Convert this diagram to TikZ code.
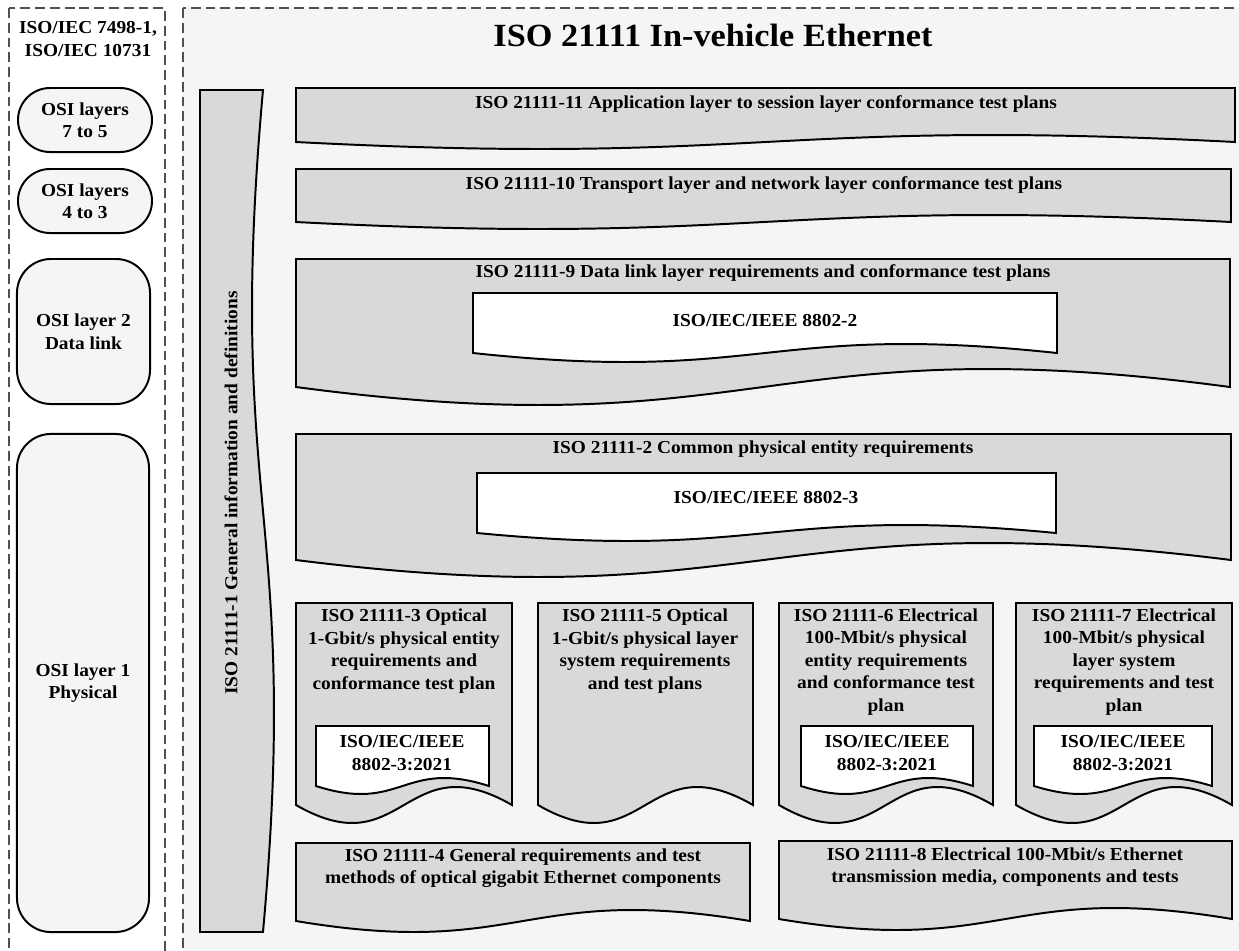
\documentclass[tikz,border=0pt]{standalone}
\usepackage{fontspec}
\setmainfont{Liberation Serif}[FakeStretch=1.06]
\usepackage{xcolor}
\definecolor{panel_bg}{RGB}{244,245,247}
\definecolor{doc_grey}{RGB}{217,217,217}
\definecolor{dash_grey}{RGB}{80,80,80}
\usepackage{tikz}
\usetikzlibrary{positioning}

% document shape: style, left, top, right, bottom ends, wave amplitude
\newcommand{\docshape}[6]{%
  \draw[#1] (#2,#3) -- (#4,#3) -- (#4,#5)
    .. controls ({(#2+#4)/2},{#5-3.46*#6}) and ({(#2+#4)/2},{#5+3.46*#6}) .. (#2,#5) -- cycle;}

\begin{document}
\begin{tikzpicture}
[	x=0.025cm, y=-0.025cm,
	panel/.style={draw=dash_grey, line width=1.1pt, dash pattern=on 7pt off 3.5pt},
	osibox/.style={draw, line width=1.4pt, fill=panel_bg, align=center, font=\bfseries\fontsize{13}{16}\selectfont},
	greydoc/.style={draw, line width=1.4pt, fill=doc_grey},
	whitedoc/.style={draw, line width=1.4pt, fill=white},
	doctext/.style={align=center, inner sep=0pt, font=\bfseries\fontsize{13}{16}\selectfont},
	titletext/.style={font=\bfseries\fontsize{23}{28}\selectfont}
]
\useasboundingbox (0,0) rectangle (1239,950);
\clip (0,0) rectangle (1239,950);
\fill[white] (0,0) rectangle (1239,950);

% OSI panel
\draw[panel] (9,8) rectangle (165,970);
\node[doctext] (osiref) at (88,39) {ISO/IEC 7498-1,\\ISO/IEC 10731};
\node[osibox, rounded corners=0.8cm, minimum width=3.35cm, minimum height=1.6cm] (osi75) at (85,120) {OSI layers\\7 to 5};
\node[osibox, rounded corners=0.8cm, minimum width=3.35cm, minimum height=1.6cm] (osi43) at (85,201) {OSI layers\\4 to 3};
\node[osibox, rounded corners=0.85cm, minimum width=3.325cm, minimum height=3.625cm] (osi2) at (83.5,331.5) {OSI layer 2\\Data link};
\node[osibox, rounded corners=0.85cm, minimum width=3.3cm, minimum height=12.45cm] (osi1) at (83,683) {OSI layer 1\\Physical};

% ISO 21111 panel
\draw[panel, fill=panel_bg] (183,8) rectangle (1260,970);
\node[titletext] (title) at (713,35) {ISO 21111 In-vehicle Ethernet};

% part 1, standing along the left
\draw[greydoc] (200,90) -- (263,90) .. controls (225,511) and (301,511) .. (263,932) -- (200,932) -- cycle;
\node[doctext, rotate=90] (iso1) at (231,493) {ISO 21111-1 General information and definitions};

% upper layers
\docshape{greydoc}{296}{88}{1235}{142}{7}
\node[doctext] (iso11) at (766,104) {ISO 21111-11 Application layer to session layer conformance test plans};
\docshape{greydoc}{296}{169}{1231}{222}{7}
\node[doctext] (iso10) at (764,185) {ISO 21111-10 Transport layer and network layer conformance test plans};

% data link
\docshape{greydoc}{296}{259}{1230}{387}{18}
\node[doctext] (iso9) at (763,273) {ISO 21111-9 Data link layer requirements and conformance test plans};
\docshape{whitedoc}{473}{293}{1057}{353}{9}
\node[doctext] (ieee2) at (765,321) {ISO/IEC/IEEE 8802-2};

% common physical
\docshape{greydoc}{296}{434}{1231}{560}{17}
\node[doctext] (iso2) at (763,449) {ISO 21111-2 Common physical entity requirements};
\docshape{whitedoc}{477}{473}{1056}{533}{8}
\node[doctext] (ieee3) at (766,497) {ISO/IEC/IEEE 8802-3};

% physical parts
\docshape{greydoc}{296}{603}{512}{805}{18}
\node[doctext] (iso3) at (404,651) {ISO 21111-3 Optical\\1-Gbit/s physical entity\\requirements and\\conformance test plan};
\docshape{whitedoc}{316}{726}{489}{786}{8}
\node[doctext] (ieee3a) at (402,753) {ISO/IEC/IEEE\\8802-3:2021};

\docshape{greydoc}{538}{603}{753}{805}{18}
\node[doctext] (iso5) at (645,651) {ISO 21111-5 Optical\\1-Gbit/s physical layer\\system requirements\\and test plans};

\docshape{greydoc}{779}{603}{993}{805}{18}
\node[doctext] (iso6) at (886,662) {ISO 21111-6 Electrical\\100-Mbit/s physical\\entity requirements\\and conformance test\\plan};
\docshape{whitedoc}{801}{726}{973}{786}{8}
\node[doctext] (ieee3b) at (887,753) {ISO/IEC/IEEE\\8802-3:2021};

\docshape{greydoc}{1016}{603}{1232}{805}{18}
\node[doctext] (iso7) at (1124,662) {ISO 21111-7 Electrical\\100-Mbit/s physical\\layer system\\requirements and test\\plan};
\docshape{whitedoc}{1034}{726}{1212}{786}{8}
\node[doctext] (ieee3c) at (1123,753) {ISO/IEC/IEEE\\8802-3:2021};

% components
\docshape{greydoc}{296}{843}{750}{921}{11}
\node[doctext] (iso4) at (523,868) {ISO 21111-4 General requirements and test\\methods of optical gigabit Ethernet components};
\docshape{greydoc}{779}{841}{1232}{919}{11}
\node[doctext] (iso8) at (1005,867) {ISO 21111-8 Electrical 100-Mbit/s Ethernet\\transmission media, components and tests};

\end{tikzpicture}
\end{document}
